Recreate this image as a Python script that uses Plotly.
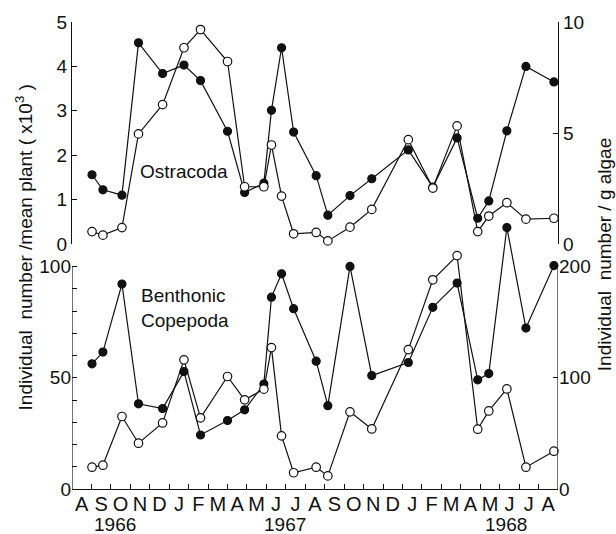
import plotly.graph_objects as go

# Sampling dates, expressed as months elapsed since 1 August 1966
sample_month = [1.03, 1.59, 2.57, 3.42, 4.66, 5.76, 6.61, 8.00, 8.88, 9.87,
                10.26, 10.78, 11.40, 12.56, 13.16, 14.30, 15.42, 17.30, 18.56,
                19.81, 20.87, 21.44, 22.37, 23.35, 24.79]

# Ostracoda
ostra_per_plant = [1.56, 1.22, 1.10, 4.53, 3.84, 4.03, 3.68, 2.54, 1.16, 1.37,
                   3.01, 4.42, 2.52, 1.54, 0.65, 1.09, 1.47, 2.12, 1.28, 2.39,
                   0.58, 0.97, 2.55, 4.00, 3.65]          # x10^3 / mean plant
ostra_per_g = [0.56, 0.40, 0.74, 4.96, 6.28, 8.84, 9.66, 8.22, 2.58, 2.58,
               4.46, 2.16, 0.46, 0.52, 0.14, 0.76, 1.56, 4.70, 2.52, 5.32,
               0.56, 1.26, 1.86, 1.12, 1.16]              # per g algae

# Benthonic Copepoda
cope_per_plant = [56.3, 61.6, 92.2, 38.3, 36.2, 52.8, 24.3, 30.8, 35.6, 47.2,
                  86.3, 96.8, 81.1, 57.5, 37.5, 100.1, 51.0, 56.9, 81.7, 92.6,
                  49.1, 51.9, 117.6, 72.4, 100.5]
cope_per_g = [19.6, 21.4, 65.2, 41.2, 59.4, 116.2, 64.0, 101.2, 80.2, 89.8,
              127.2, 47.8, 14.6, 19.6, 11.8, 69.4, 54.0, 125.4, 188.2, 210.0,
              53.8, 70.2, 90.0, 19.6, 34.0]

month_letters = ["A", "S", "O", "N", "D", "J", "F", "M", "A", "M", "J", "J", "A",
                 "S", "O", "N", "D", "J", "F", "M", "A", "M", "J", "J", "A"]
years = ["1966", "1967", "1968"]
year_pos = [2.2, 10.96, 22.3]

FONT = "Liberation Sans, Arial, sans-serif"
INK = "#111111"

fig = go.Figure()


def series(y, xa, ya, filled):
    return go.Scatter(
        x=sample_month, y=y, xaxis=xa, yaxis=ya, mode="lines+markers",
        line=dict(color=INK, width=1.2),
        marker=dict(size=8 if filled else 8.5,
                    color=INK if filled else "white",
                    line=dict(color=INK, width=1.2)),
        cliponaxis=False, showlegend=False, hoverinfo="skip")


# lower panel: Benthonic Copepoda
fig.add_trace(series(cope_per_plant, "x", "y", True))
fig.add_trace(series(cope_per_g, "x", "y2", False))
# upper panel: Ostracoda
fig.add_trace(series(ostra_per_plant, "x2", "y3", True))
fig.add_trace(series(ostra_per_g, "x2", "y4", False))

tickfont = dict(family=FONT, size=19, color=INK)
axis_common = dict(showgrid=False, zeroline=False, ticks="inside", ticklen=5,
                   tickwidth=1, tickcolor=INK, tickfont=tickfont,
                   linecolor=INK, linewidth=1.2)

fig.update_layout(
    width=616, height=534,
    margin=dict(l=72, r=58, t=22, b=45),
    paper_bgcolor="white", plot_bgcolor="rgba(0,0,0,0)",
    xaxis=dict(range=[0, 25], domain=[0, 1], anchor="y", showgrid=False,
               zeroline=False, showline=True, linecolor=INK, linewidth=1.2,
               tickmode="array", tickvals=[i + 0.5 for i in range(25)],
               ticktext=month_letters, ticks="", ticklabelstandoff=-3,
               tickfont=dict(family=FONT, size=20, color=INK),
               minor=dict(tickmode="array", tickvals=list(range(1, 25)),
                          ticks="inside", ticklen=5, tickcolor=INK, tickwidth=1)),
    xaxis2=dict(range=[0, 25], domain=[0, 1], anchor="y3", matches="x",
                visible=False),
    yaxis=dict(domain=[0, 0.5951], range=[0, 125], anchor="x", side="left",
               showline=False, tickmode="array", tickvals=[0, 50, 100],
               minor=dict(tickmode="array",
                          tickvals=[10, 20, 30, 40, 60, 70, 80, 90],
                          ticks="inside", ticklen=5, tickcolor=INK, tickwidth=1),
               **axis_common),
    yaxis2=dict(range=[0, 250], anchor="x", overlaying="y", side="right",
                showline=False, tickmode="array", tickvals=[0, 100, 200],
                **axis_common),
    yaxis3=dict(domain=[0.5246, 1.0], range=[0, 5], anchor="x2", side="left",
                showline=True, tickmode="array", tickvals=[0, 1, 2, 3, 4, 5],
                **axis_common),
    yaxis4=dict(range=[0, 10], anchor="x2", overlaying="y3", side="right",
                showline=True, tickmode="array", tickvals=[0, 5, 10],
                **axis_common),
)

# vertical axis lines of the lower panel stop at the top tick
fig.add_shape(type="line", xref="x", yref="y", x0=0, x1=0, y0=0, y1=100,
              line=dict(color=INK, width=1.2))
fig.add_shape(type="line", xref="x", yref="y2", x0=25, x1=25, y0=0, y1=200,
              line=dict(color=INK, width=1.2))

# panel labels
fig.add_annotation(x=5.74, y=1.63, xref="x2", yref="y3", text="Ostracoda",
                   showarrow=False, font=dict(family=FONT, size=19, color=INK))
fig.add_annotation(x=3.45, y=81.6, xref="x", yref="y",
                   text="Benthonic<br>Copepoda", showarrow=False, align="left",
                   xanchor="left", font=dict(family=FONT, size=19, color=INK))

# year labels under the month letters
for yr, pos in zip(years, year_pos):
    fig.add_annotation(x=pos, y=-0.077, xref="x", yref="paper", text=yr,
                       showarrow=False, yanchor="middle",
                       font=dict(family=FONT, size=19, color=INK))

# axis titles
fig.add_annotation(x=-0.099, y=0.517, xref="paper", yref="paper",
                   text="Individual  number /mean plant ( x10<sup>3</sup> )",
                   textangle=-90, showarrow=False, xanchor="center",
                   yanchor="middle", font=dict(family=FONT, size=19, color=INK))
fig.add_annotation(x=1.095, y=0.501, xref="paper", yref="paper",
                   text="Individual  number / g algae",
                   textangle=-90, showarrow=False, xanchor="center",
                   yanchor="middle", font=dict(family=FONT, size=19, color=INK))

fig.write_html("out.html")
